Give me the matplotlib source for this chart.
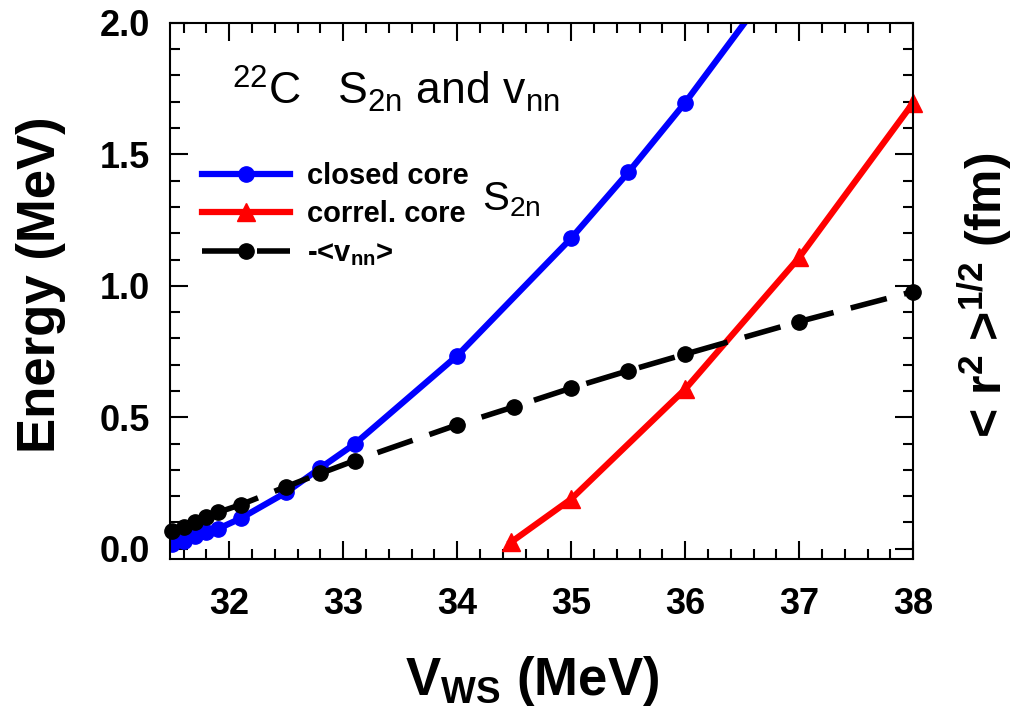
import matplotlib
matplotlib.use('Agg')
import matplotlib.pyplot as plt
from matplotlib.ticker import MultipleLocator

# closed core S2n (blue); last point is the line leaving the frame, no marker
closed_x = [31.5, 31.6, 31.7, 31.8, 31.9, 32.1, 32.5, 32.8, 33.1, 34.0, 35.0, 35.5, 36.0, 36.52]
closed_y = [0.018, 0.030, 0.049, 0.062, 0.075, 0.115, 0.214, 0.307, 0.398, 0.734, 1.181, 1.431, 1.697, 2.0]

# correlated core S2n (red)
correl_x = [34.47, 35.0, 36.0, 37.0, 38.0]
correl_y = [0.024, 0.189, 0.607, 1.108, 1.697]

# -<v_nn> (black)
vnn_x = [31.5, 31.6, 31.7, 31.8, 31.9, 32.1, 32.5, 32.8, 33.1, 34.0, 34.5, 35.0, 35.5, 36.0, 37.0, 38.0]
vnn_y = [0.066, 0.081, 0.100, 0.119, 0.138, 0.167, 0.236, 0.286, 0.335, 0.471, 0.540, 0.611, 0.677, 0.740, 0.864, 0.978]

plt.rcParams['font.family'] = ['Liberation Sans', 'DejaVu Sans']
plt.rcParams['mathtext.fontset'] = 'custom'
plt.rcParams['mathtext.rm'] = 'Liberation Sans'

fig = plt.figure(figsize=(10.17, 7.16), dpi=100)
ax = fig.add_axes([0.167, 0.219, 0.731, 0.749])

ax.plot(closed_x, closed_y, '-', color='blue', lw=4.5, marker='o', markersize=11,
        markevery=list(range(len(closed_x) - 1)), label='closed core')
ax.plot(correl_x, correl_y, '-', color='red', lw=4.5, marker='^', markersize=13,
        label='correl. core', clip_on=False)
ax.plot(vnn_x, vnn_y, color='black', lw=4, dashes=(6.7, 3.2), marker='o', markersize=11,
        label=r'-<$\mathregular{v_{nn}}$>', clip_on=False, zorder=3)

ax.set_xlim(31.48, 38.0)
ax.set_ylim(-0.04, 2.0)
ax.xaxis.set_major_locator(MultipleLocator(1))
ax.xaxis.set_minor_locator(MultipleLocator(0.2))
ax.yaxis.set_minor_locator(MultipleLocator(0.1))
ax.set_yticks([0.0, 0.5, 1.0, 1.5, 2.0])
ax.set_yticklabels(['0.0', '0.5', '1.0', '1.5', '2.0'])

ax.tick_params(which='both', direction='in', top=True, right=True, width=1.5)
ax.tick_params(which='major', length=13)
ax.tick_params(which='minor', length=7)
ax.tick_params(axis='x', which='major', pad=20, labelsize=26)
ax.tick_params(axis='y', which='major', pad=14, labelsize=26)
for lab in ax.get_xticklabels() + ax.get_yticklabels():
    lab.set_fontweight('bold')
for sp in ax.spines.values():
    sp.set_linewidth(1.5)

leg = ax.legend(loc='upper left', bbox_to_anchor=(0.024, 0.768), frameon=False,
                borderpad=0, handlelength=3.0, handletextpad=0.6, labelspacing=0.36,
                prop={'size': 21, 'weight': 'bold'})

ax.text(0.083, 0.847, r'$\mathregular{^{22}C}$   $\mathregular{S_{2n}}$ and $\mathregular{v_{nn}}$',
        transform=ax.transAxes, fontsize=32, va='baseline', ha='left')
ax.text(0.42, 0.651, r'$\mathregular{S_{2n}}$', transform=ax.transAxes,
        fontsize=29, va='baseline', ha='left')

fig.text(0.040, 0.602, 'Energy (MeV)', rotation=90, fontsize=38, fontweight='bold',
         ha='center', va='center')
fig.text(0.523, 0.029, r'$\mathregular{V_{WS}}$ (MeV)', fontsize=38, fontweight='bold',
         ha='center', va='baseline')
fig.text(0.969, 0.588, r'< r$\mathregular{^2}$ >$\mathregular{^{1/2}}$ (fm)', rotation=90,
         fontsize=36, fontweight='bold', ha='center', va='center')

fig.savefig('out.png', dpi=100)
